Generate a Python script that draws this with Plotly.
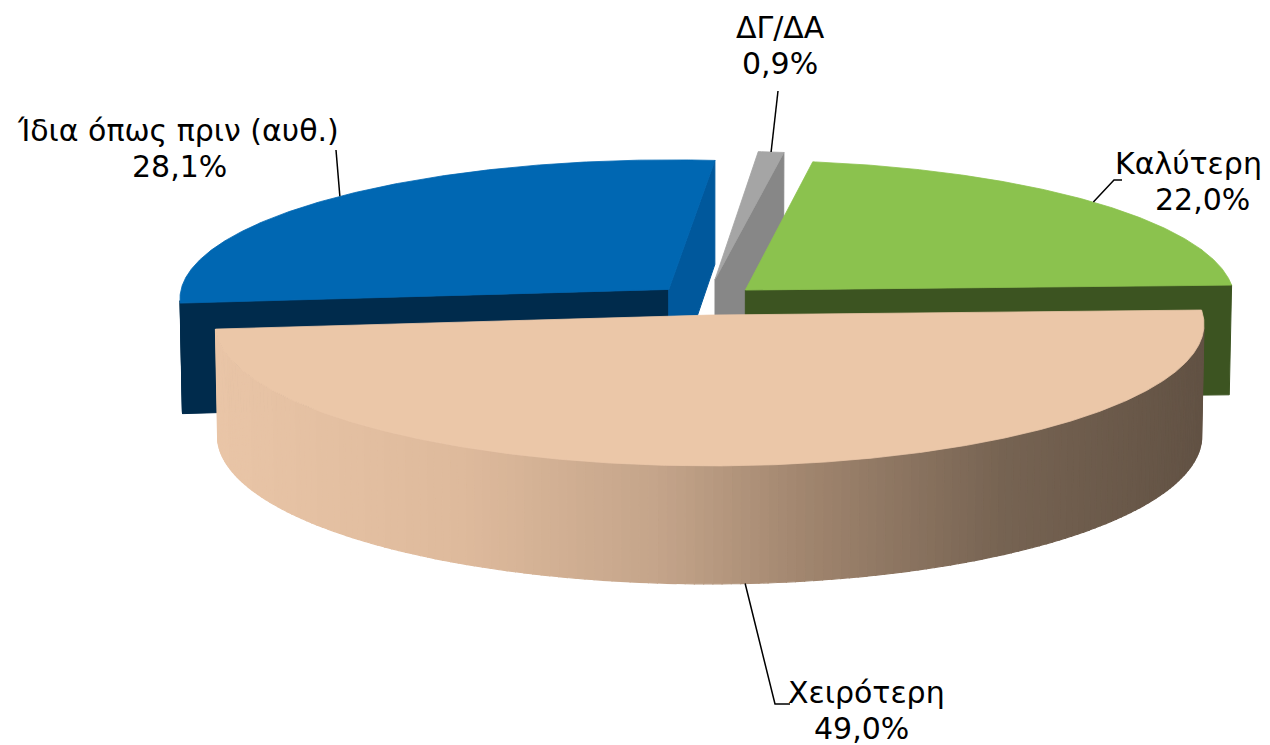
import math
import numpy as np
import plotly.graph_objects as go

# ---------------- data ----------------
categories = ["ΔΓ/ΔΑ", "Καλύτερη", "Χειρότερη", "Ίδια όπως πριν (αυθ.)"]
values = [0.9, 22.0, 49.0, 28.1]

# ---------------- style ----------------
top_colors = ["#A5A5A5", "#8BC24E", "#EBC7A8", "#0067B2"]
front_wall_colors = ["#7E7E7E", "#3C5421", "#A88E78", "#002B4C"]
side_wall_colors = ["#878787", "#4A6A2A", "#6A5646", "#00589C"]
gradient_slice = [False, False, True, False]
explode = [0.15, 0.108, 0.108, 0.108]
# gradient stops for curved side (screen-x fraction -> rgb)
grad_stops = [(0.0, (233, 197, 167)), (0.25, (222, 186, 156)), (0.45, (196, 164, 138)),
              (0.6, (160, 133, 110)), (0.8, (118, 99, 82)), (1.0, (98, 82, 68))]

# label line positions: (x, y, xanchor) for name line and value line
name_pos = [(772, 19, "center"), (1180, 155, "center"), (858, 684, "center"), (170, 122, "center")]
value_pos = [(772, 55, "center"), (1194, 191, "center"), (853, 720, "center"), (171, 158, "center")]
leader_waypoints = [
    [(770, 83)],
    [(1114, 172), (1106, 172)],
    [(782, 696), (767, 696)],
    [(328, 142)],
]
leader_on_bottom = [False, False, True, False]
FONT = dict(family="DejaVu Sans", size=30, color="black")
LINE_BOX = 35

W, H = 1270, 745
ALPHA = math.radians(16.5)
SA, CA = math.sin(ALPHA), math.cos(ALPHA)
DIST = 15.0
FOCAL = 7350.0
CX, CY = 698.0, 292.0
THICK = 0.236
START = 5.5
CAM = np.array([0.0, -DIST * CA, DIST * SA])


def proj(u, v, w):
    zc = DIST + v * CA - w * SA
    return CX + FOCAL * u / zc, CY - FOCAL * (v * SA + w * CA) / zc


def fmt(v):
    return f"{v:.1f}".replace(".", ",") + "%"


def interp_color(f):
    f = min(max(f, 0.0), 1.0)
    for (a, ca), (b, cb) in zip(grad_stops[:-1], grad_stops[1:]):
        if a <= f <= b:
            k = (f - a) / (b - a) if b > a else 0
            c = [round(ca[j] + k * (cb[j] - ca[j])) for j in range(3)]
            return f"rgb({c[0]},{c[1]},{c[2]})"
    c = grad_stops[-1][1]
    return f"rgb({c[0]},{c[1]},{c[2]})"


fig = go.Figure()


def poly(pts3, color, lw=1.0):
    xy = [proj(*p) for p in pts3]
    xs = [p[0] for p in xy] + [xy[0][0]]
    ys = [p[1] for p in xy] + [xy[0][1]]
    fig.add_trace(go.Scatter(x=xs, y=ys, mode="lines", fill="toself", fillcolor=color,
                             line=dict(color=color, width=lw), hoverinfo="skip",
                             showlegend=False))


total = sum(values)
slices = []
t = START
for i, val in enumerate(values):
    span = 360.0 * val / total
    t1, t2 = t, t + span
    tm = math.radians((t1 + t2) / 2)
    off = (explode[i] * math.sin(tm), explode[i] * math.cos(tm))
    slices.append(dict(i=i, t1=t1, t2=t2, tm=tm, off=off))
    t += span


def rim(s, tdeg, w):
    r = math.radians(tdeg)
    return (s["off"][0] + math.sin(r), s["off"][1] + math.cos(r), w)


# far slices first
order = sorted(slices, key=lambda s: -s["off"][1])
for s in order:
    i = s["i"]
    apex_top = (s["off"][0], s["off"][1], 0.0)
    apex_bot = (s["off"][0], s["off"][1], -THICK)
    # radial walls
    for tw, nang in ((s["t1"], s["t1"] - 90), (s["t2"], s["t2"] + 90)):
        n = np.array([math.sin(math.radians(nang)), math.cos(math.radians(nang)), 0.0])
        rt = rim(s, tw, 0.0)
        mid = np.array([(apex_top[0] + rt[0]) / 2, (apex_top[1] + rt[1]) / 2, -THICK / 2])
        if np.dot(CAM - mid, n) > 0:
            col = front_wall_colors[i] if n[1] < -0.6 else side_wall_colors[i]
            poly([apex_top, rt, rim(s, tw, -THICK), apex_bot], col)
    # curved side
    ts = np.linspace(s["t1"], s["t2"], max(8, int((s["t2"] - s["t1"]) * 1.0)))
    vis = []
    for tt in ts:
        r = math.radians(tt)
        n = np.array([math.sin(r), math.cos(r), 0.0])
        p = np.array(rim(s, tt, -THICK / 2))
        vis.append(np.dot(CAM - p, n) > 0)
    runs, cur = [], []
    for tt, vv in zip(ts, vis):
        if vv:
            cur.append(tt)
        elif cur:
            runs.append(cur)
            cur = []
    if cur:
        runs.append(cur)
    for run in runs:
        if len(run) < 2:
            continue
        if gradient_slice[i]:
            xl = proj(*rim(s, s["t2"], 0.0))[0]
            xr = proj(*rim(s, s["t1"], 0.0))[0]
            for a, b in zip(run[:-1], run[1:]):
                xm = (proj(*rim(s, a, 0.0))[0] + proj(*rim(s, b, 0.0))[0]) / 2
                col = interp_color((xm - xl) / (xr - xl))
                poly([rim(s, a, 0.0), rim(s, b, 0.0), rim(s, b, -THICK), rim(s, a, -THICK)],
                     col, lw=1.2)
        else:
            pts = [rim(s, a, 0.0) for a in run] + [rim(s, a, -THICK) for a in run[::-1]]
            poly(pts, front_wall_colors[i])
    # top face
    arc = np.linspace(s["t1"], s["t2"], max(8, int((s["t2"] - s["t1"]) * 3)))
    poly([apex_top] + [rim(s, a, 0.0) for a in arc], top_colors[i], lw=0.8)

# leader lines and labels
for s in slices:
    i = s["i"]
    tmd = math.degrees(s["tm"])
    w = -THICK if leader_on_bottom[i] else 0.0
    end = proj(*rim(s, tmd, w))
    pts = leader_waypoints[i] + [end]
    fig.add_trace(go.Scatter(x=[p[0] for p in pts], y=[p[1] for p in pts], mode="lines",
                             line=dict(color="black", width=1.5), hoverinfo="skip",
                             showlegend=False))
    for (x, y, xa), txt in ((name_pos[i], categories[i]), (value_pos[i], fmt(values[i]))):
        fig.add_annotation(x=x, y=y, text=txt, showarrow=False, xanchor=xa,
                           yanchor="middle", align="center", valign="middle",
                           height=LINE_BOX, font=FONT)

fig.update_layout(
    width=W, height=H, margin=dict(l=0, r=0, t=0, b=0),
    paper_bgcolor="white", plot_bgcolor="white", showlegend=False,
    xaxis=dict(range=[0, W], visible=False, fixedrange=True),
    yaxis=dict(range=[H, 0], visible=False, fixedrange=True),
)
fig.write_html("out.html")
